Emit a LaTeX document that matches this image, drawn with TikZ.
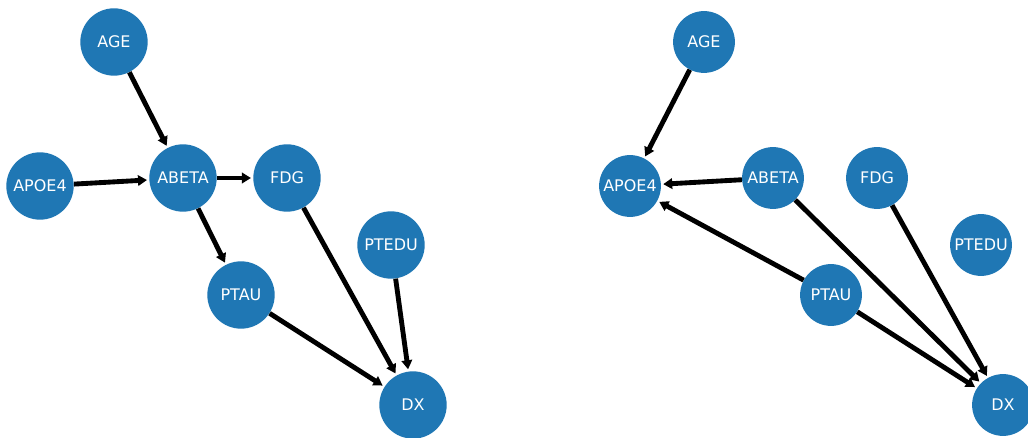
\documentclass[tikz,border=0pt]{standalone}
\usepackage{fontspec}
\setmainfont{DejaVu Sans}
\usepackage{xcolor}
\usepackage{tikz}
\usetikzlibrary{arrows.meta}
\definecolor{nxblue}{RGB}{31,119,180}

\begin{document}
\begin{tikzpicture}[x=0.72pt, y=-0.72pt,
    var/.style={circle, fill=nxblue, text=white, inner sep=0pt, font=\fontsize{11.5}{13}\selectfont},
    edge/.style={line width=3.5pt, shorten >=1.5pt, -{Triangle[length=6.5pt,width=7.5pt]}}]
	  \useasboundingbox (0,0) rectangle (1028,438);
	  % left graph
	  \foreach \name/\x/\y in {AGE/114/42, APOE4/40/186, ABETA/183/178, FDG/287/178, PTEDU/391/245, PTAU/241/295, DX/413/405}
	    \node[var, minimum size=48.5pt] (l\name) at (\x,\y) {\name};
	  \foreach \a/\b in {AGE/ABETA, APOE4/ABETA, ABETA/FDG, ABETA/PTAU, FDG/DX, PTEDU/DX, PTAU/DX}
	    \draw[edge] (l\a) -- (l\b);
	  % right graph
	  \foreach \name/\x/\y in {AGE/704/42, APOE4/630/186, ABETA/773/178, FDG/877/178, PTEDU/981/245, PTAU/831/295, DX/1003/405}
	    \node[var, minimum size=44.5pt] (r\name) at (\x,\y) {\name};
	  \foreach \a/\b in {AGE/APOE4, ABETA/APOE4, PTAU/APOE4, ABETA/DX, FDG/DX, PTAU/DX}
	    \draw[edge] (r\a) -- (r\b);
	\end{tikzpicture}
\end{document}
